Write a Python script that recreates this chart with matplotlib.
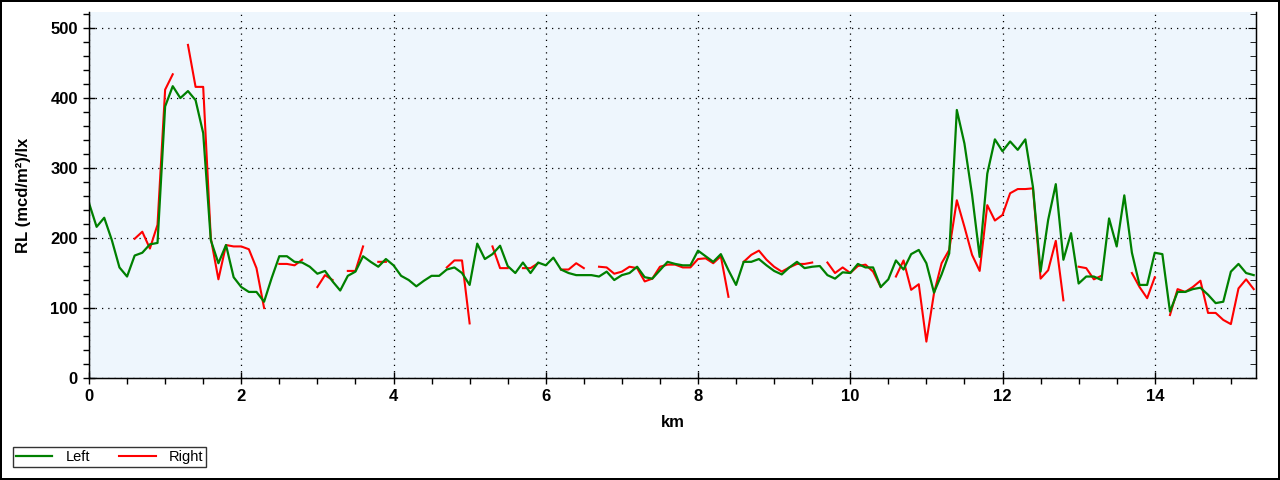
import matplotlib
matplotlib.use("Agg")
import matplotlib.pyplot as plt
import numpy as np
from matplotlib.ticker import MultipleLocator

plt.rcParams['font.family'] = ['Liberation Sans', 'DejaVu Sans']

nan = np.nan

# distance along the road, km (one sample every 100 m)
km = np.round(np.arange(0, 15.35, 0.1), 1)

# retroreflection, left lane edge
left = [
    250, 216, 229, 197, 158, 145, 175, 179, 191, 193,
    388, 417, 400, 410, 397, 350, 197, 164, 190, 144,
    130, 123, 123, 109, 143, 174, 174, 166, 165, 159,
    149, 153, 138, 125, 146, 152, 174, 166, 159, 170,
    161, 146, 140, 131, 139, 146, 146, 155, 158, 150,
    133, 192, 170, 177, 189, 160, 150, 165, 150, 165,
    161, 172, 155, 150, 147, 147, 147, 145, 152, 140,
    147, 150, 159, 144, 142, 154, 166, 163, 161, 161,
    182, 174, 166, 177, 154, 133, 166, 166, 170, 161,
    153, 148, 158, 166, 157, 159, 160, 147, 142, 151,
    150, 163, 158, 158, 130, 141, 168, 155, 177, 183,
    164, 122, 148, 178, 383, 335, 262, 173, 292, 341,
    324, 338, 326, 341, 273, 152, 226, 277, 169, 207,
    135, 145, 145, 140, 228, 188, 261, 179, 133, 133,
    179, 177, 95, 123, 123, 127, 129, 119, 107, 109,
    152, 163, 150, 147,
]

# retroreflection, right lane edge (gaps = no reading)
right = [
    nan, nan, nan, nan, nan, nan, 199, 209, 185, 219,
    412, 434, nan, 476, 416, 416, 200, 141, 190, 188,
    188, 184, 157, 100, nan, 163, 163, 161, 169, nan,
    130, 147, 140, nan, 153, 153, 188, nan, 166, 166,
    nan, nan, nan, nan, nan, nan, nan, 158, 168, 168,
    78, nan, nan, 188, 157, 157, nan, 157, 157, 164,
    nan, nan, 155, 155, 164, 157, nan, 159, 158, 149,
    152, 159, 157, 138, 142, 159, 162, 162, 158, 158,
    170, 171, 164, 174, 116, nan, 166, 176, 182, 169,
    159, 152, 158, 163, 163, 165, nan, 165, 150, 158,
    150, 160, 162, 152, 130, nan, 145, 168, 126, 134,
    52, 121, 164, 183, 254, 216, 176, 153, 247, 225,
    233, 264, 270, 270, 271, 142, 154, 196, 111, nan,
    159, 157, 141, 146, nan, nan, nan, 150, 130, 114,
    144, nan, 90, 127, 123, 130, 139, 93, 93, 83,
    77, 128, 141, 127,
]

fig = plt.figure(figsize=(12.8, 4.8), dpi=100)
fig.patch.set_facecolor('white')
fig.patch.set_edgecolor('black')
fig.patch.set_linewidth(1.5)

ax = fig.add_axes([89 / 1280, 1 - 378 / 480, (1256 - 89) / 1280, (378 - 12) / 480])
ax.set_facecolor('#eef6fd')

line_r, = ax.plot(km, right, color='#ff0000', lw=1.5, label='Right')
line_l, = ax.plot(km, left, color='#008000', lw=1.6, label='Left')

ax.set_xlim(0, 15.33)
ax.set_ylim(0, 523)
ax.xaxis.set_major_locator(MultipleLocator(2))
ax.xaxis.set_minor_locator(MultipleLocator(0.5))
ax.yaxis.set_major_locator(MultipleLocator(100))
ax.yaxis.set_minor_locator(MultipleLocator(20))

ax.grid(True, which='major', color='black', linestyle=(0, (1, 4)), linewidth=0.9)

for s in ['left', 'bottom', 'right']:
    ax.spines[s].set_color('black')
    ax.spines[s].set_linewidth(1)
ax.spines['top'].set_visible(False)

ax.tick_params(axis='both', which='major', direction='inout', length=8, width=1,
               labelsize=12, pad=4)
ax.tick_params(axis='both', which='minor', direction='out', length=4, width=1)
for lab in ax.get_xticklabels() + ax.get_yticklabels():
    lab.set_fontweight('bold')

# unlabeled scale on the right edge, ticks pointing inward
ax_r = ax.twinx()
ax_r.set_ylim(ax.get_ylim())
ax_r.yaxis.set_major_locator(MultipleLocator(100))
ax_r.yaxis.set_minor_locator(MultipleLocator(20))
ax_r.tick_params(axis='y', which='both', direction='in', labelright=False)
ax_r.tick_params(axis='y', which='major', length=6)
ax_r.tick_params(axis='y', which='minor', length=4)
ax_r.spines['top'].set_visible(False)

ax.set_xlabel('km', fontsize=12, fontweight='bold', labelpad=8)
ax.set_ylabel('RL (mcd/m²)/lx', fontsize=12, fontweight='bold', labelpad=14)

leg = fig.legend([line_l, line_r], ['Left', 'Right'], loc='lower left',
                 bbox_to_anchor=(13 / 1280, 1 - 467 / 480), ncol=2,
                 fontsize=10.5, frameon=True, fancybox=False, handlelength=2.5,
                 columnspacing=2.0, borderpad=0.2, handletextpad=0.9,
                 borderaxespad=0)
leg.get_frame().set_edgecolor('black')
leg.get_frame().set_linewidth(1)

fig.savefig('out.png', dpi=100, facecolor=fig.get_facecolor(),
            edgecolor=fig.get_edgecolor())
